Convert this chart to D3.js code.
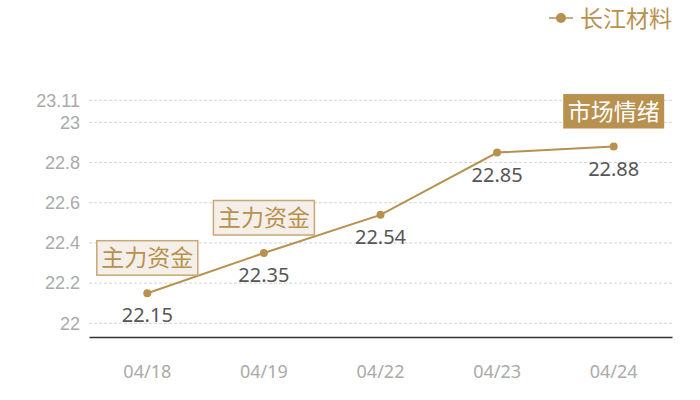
<!DOCTYPE html>
<html>
<head>
<meta charset="utf-8">
<script src="https://cdn.jsdelivr.net/npm/d3@7"></script>
<style>
  body { margin: 0; background: #fff; }
  text { font-family: "Noto Sans CJK SC", "Noto Sans", sans-serif; }
</style>
</head>
<body>
<script>
"use strict";

const width = 700;
const height = 400;

// data
const dates = ["04/18", "04/19", "04/22", "04/23", "04/24"];
const prices = [22.15, 22.35, 22.54, 22.85, 22.88];
const yTicks = [22, 22.2, 22.4, 22.6, 22.8, 23, 23.11];
const seriesName = "长江材料";
const notes = [
    { date: "04/18", text: "主力资金", filled: false },
    { date: "04/19", text: "主力资金", filled: false },
    { date: "04/24", text: "市场情绪", filled: true }
];

const gold = "#b8914f";

let svg = d3.select("body").append("svg")
    .attr("width", width)
    .attr("height", height);

let x = d3.scaleBand()
    .domain(dates)
    .range([89, 672]);

let y = d3.scaleLinear()
    .domain([21.932, 23.11])
    .range([337, 100.3]);

let cx = d => x(d) + x.bandwidth() / 2;

// grid lines
svg.append("g")
    .selectAll("line")
    .data(yTicks)
    .enter()
    .append("line")
    .attr("x1", 89)
    .attr("x2", 672)
    .attr("y1", d => y(d))
    .attr("y2", d => y(d))
    .style("stroke", "#d4d4d4")
    .style("stroke-width", 1)
    .style("stroke-dasharray", "3,2");

// y axis labels
let yAxis = svg.append("g")
    .attr("transform", "translate(80,0)")
    .call(d3.axisLeft(y).tickValues(yTicks).tickSize(0).tickPadding(0)
        .tickFormat(d => String(d)));
yAxis.select(".domain").remove();
yAxis.selectAll("text")
    .style("font-family", "'Liberation Sans', sans-serif")
    .style("font-size", "18px")
    .style("fill", "#aaa");

// x axis
let xAxis = svg.append("g")
    .attr("transform", "translate(0,337)")
    .call(d3.axisBottom(x).tickSize(0).tickPadding(28));
xAxis.select(".domain")
    .style("stroke", "#333")
    .style("stroke-width", 1.5);
xAxis.selectAll("text")
    .style("font-family", "'Noto Sans', sans-serif")
    .style("font-size", "18px")
    .style("fill", "#aaa");

// line
let line = d3.line()
    .x((d, i) => cx(dates[i]))
    .y(d => y(d));

svg.append("path")
    .datum(prices)
    .attr("d", line)
    .style("fill", "none")
    .style("stroke", gold)
    .style("stroke-width", 2);

svg.append("g")
    .selectAll("circle")
    .data(prices)
    .enter()
    .append("circle")
    .attr("cx", (d, i) => cx(dates[i]))
    .attr("cy", d => y(d))
    .attr("r", 4)
    .style("fill", gold);

// value labels
svg.append("g")
    .selectAll("text")
    .data(prices)
    .enter()
    .append("text")
    .attr("x", (d, i) => cx(dates[i]))
    .attr("y", d => y(d) + 29)
    .attr("text-anchor", "middle")
    .style("font-family", "'Noto Sans', sans-serif")
    .style("font-size", "20px")
    .style("fill", "#555")
    .text(d => d.toFixed(2));

// annotation boxes
let note = svg.append("g")
    .selectAll("g")
    .data(notes)
    .enter()
    .append("g")
    .attr("transform", d => {
        let i = dates.indexOf(d.date);
        return "translate(" + cx(d.date) + "," + (y(prices[i]) - 18) + ")";
    });

note.append("rect")
    .attr("x", -50.5)
    .attr("y", -34.5)
    .attr("width", 101)
    .attr("height", 34.5)
    .style("fill", d => d.filled ? gold : "#f4efe8")
    .style("stroke", d => d.filled ? "none" : "#c9a875")
    .style("stroke-width", 1.5);

note.append("text")
    .attr("x", 0)
    .attr("y", -9)
    .attr("text-anchor", "middle")
    .style("font-size", "23px")
    .style("fill", d => d.filled ? "#fff" : gold)
    .text(d => d.text);

// legend
let legend = svg.append("g")
    .attr("transform", "translate(561,18)");

legend.append("line")
    .attr("x1", -12)
    .attr("x2", 12)
    .style("stroke", gold)
    .style("stroke-width", 1.5);

legend.append("circle")
    .attr("r", 5)
    .style("fill", gold);

legend.append("text")
    .attr("x", 19)
    .attr("y", 9)
    .style("font-size", "23px")
    .style("fill", gold)
    .text(seriesName);
</script>
</body>
</html>
